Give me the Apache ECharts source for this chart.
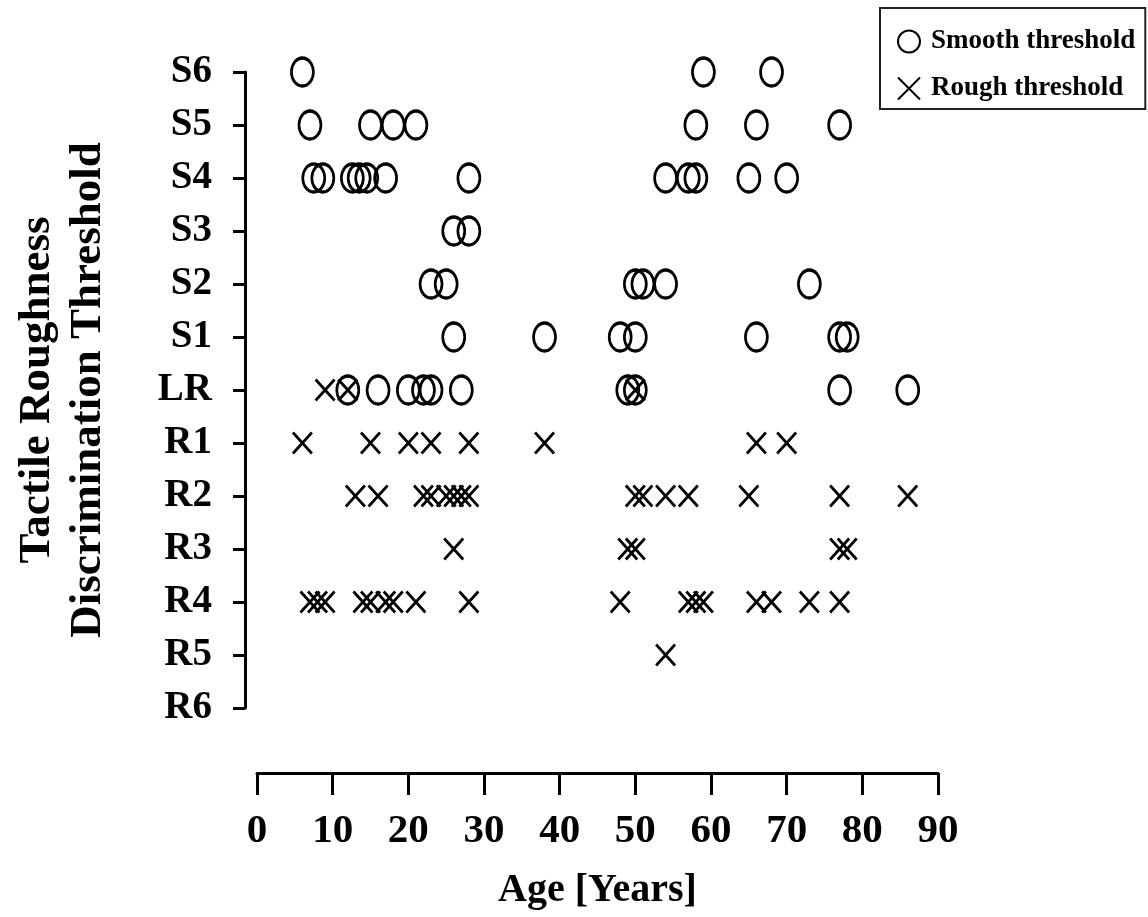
<!DOCTYPE html>
<html>
<head>
<meta charset="utf-8">
<script src="https://cdn.jsdelivr.net/npm/echarts@6/dist/echarts.min.js"></script>
<style>html,body{margin:0;padding:0;background:#fff;}#chart{width:1148px;height:917px;}</style>
</head>
<body>
<div id="chart"></div>
<script>
// Category levels, bottom to top
const levels = ['R6','R5','R4','R3','R2','R1','LR','S1','S2','S3','S4','S5','S6'];
const xTicks = [0,10,20,30,40,50,60,70,80,90];

// Smooth threshold points (age, level)
const smoothAge = [
  6, 59, 68,
  7, 15, 18, 21, 58, 66, 77,
  7.5, 8.7, 12.6, 13.5, 14.5, 17, 28, 54, 57, 58, 65, 70,
  26, 28,
  23, 25, 50, 51, 54, 73,
  26, 38, 48, 50, 66, 77, 78,
  12, 16, 20, 22, 23, 27, 49, 50, 77, 86
];
const smoothLevel = [
  'S6','S6','S6',
  'S5','S5','S5','S5','S5','S5','S5',
  'S4','S4','S4','S4','S4','S4','S4','S4','S4','S4','S4','S4',
  'S3','S3',
  'S2','S2','S2','S2','S2','S2',
  'S1','S1','S1','S1','S1','S1','S1',
  'LR','LR','LR','LR','LR','LR','LR','LR','LR','LR'
];

// Rough threshold points (age, level)
const roughAge = [
  9, 12, 50,
  6, 15, 20, 23, 28, 38, 66, 70,
  13, 16, 22, 23, 25, 26, 27, 28, 50, 51, 54, 57, 65, 77, 86,
  26, 49, 50, 77, 78,
  7, 8, 9, 14, 15, 17, 18, 21, 28, 48, 57, 58, 59, 66, 68, 73, 77,
  54
];
const roughLevel = [
  'LR','LR','LR',
  'R1','R1','R1','R1','R1','R1','R1','R1',
  'R2','R2','R2','R2','R2','R2','R2','R2','R2','R2','R2','R2','R2','R2','R2',
  'R3','R3','R3','R3','R3',
  'R4','R4','R4','R4','R4','R4','R4','R4','R4','R4','R4','R4','R4','R4','R4','R4','R4',
  'R5'
];

const font = '"Liberation Serif", "Times New Roman", serif';
const smoothData = smoothAge.map((a, i) => [a, smoothLevel[i]]);
const roughData = roughAge.map((a, i) => [a, roughLevel[i]]);

const chart = echarts.init(document.getElementById('chart'), null, {renderer: 'canvas'});
chart.setOption({
  animation: false,
  backgroundColor: '#fff',
  grid: {left: 257, right: 210, top: 72, bottom: 209, containLabel: false, outerBoundsMode: 'none'},
  legend: {
    left: 880, top: 8,
    orient: 'vertical',
    borderColor: '#222', borderWidth: 2,
    padding: [20, 10, 7, 17],
    itemWidth: 22, itemHeight: 26, itemGap: 20,
    textStyle: {fontFamily: font, fontWeight: 'bold', fontSize: 27, color: '#000', padding: [0, 0, 0, 6]},
    data: ['Smooth threshold', 'Rough threshold']
  },
  xAxis: {
    type: 'value', min: 0, max: 90, interval: 10,
    offset: 65,
    name: 'Age [Years]', nameLocation: 'middle', nameGap: 98,
    nameTextStyle: {fontFamily: font, fontWeight: 'bold', fontSize: 40, color: '#000'},
    axisLine: {show: true, onZero: false, lineStyle: {color: '#000', width: 3}},
    axisTick: {show: true, length: 22, lineStyle: {color: '#000', width: 3}},
    axisLabel: {margin: 38, fontFamily: font, fontWeight: 'bold', fontSize: 41, color: '#000',
      formatter: v => xTicks.includes(v) ? String(v) : ''},
    splitLine: {show: false}
  },
  yAxis: {
    type: 'category', data: levels, boundaryGap: false,
    offset: 12,
    name: 'Tactile Roughness\nDiscrimination Threshold', nameLocation: 'middle', nameGap: 131, nameRotate: 90,
    nameTextStyle: {fontFamily: font, fontWeight: 'bold', fontSize: 45, lineHeight: 51, color: '#000', align: 'center'},
    axisLine: {show: true, onZero: false, lineStyle: {color: '#000', width: 3}},
    axisTick: {show: true, length: 12, alignWithLabel: true, lineStyle: {color: '#000', width: 3}},
    axisLabel: {margin: 33, fontFamily: font, fontWeight: 'bold', fontSize: 39, color: '#000'},
    splitLine: {show: false}
  },
  series: [
    {
      name: 'Smooth threshold', type: 'scatter', data: smoothData,
      symbol: 'circle', symbolSize: [22, 28],
      itemStyle: {color: 'rgba(0,0,0,0)', borderColor: '#000', borderWidth: 3, opacity: 1},
      z: 3
    },
    {
      name: 'Rough threshold', type: 'scatter', data: roughData,
      symbol: 'path://M0,0L10,10M10,0L0,10', symbolSize: [19, 21],
      itemStyle: {color: 'rgba(0,0,0,0)', borderColor: '#000', borderWidth: 3, opacity: 1},
      z: 2
    }
  ]
});
</script>
</body>
</html>
